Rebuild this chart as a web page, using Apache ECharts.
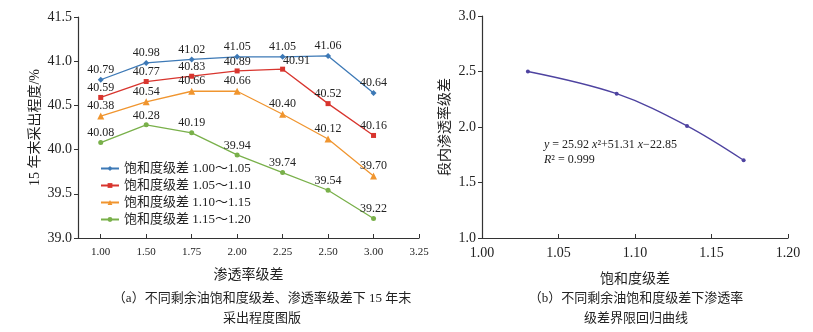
<!DOCTYPE html>
<html>
<head>
<meta charset="utf-8">
<style>
  html, body { margin: 0; padding: 0; background: #fff; }
  #chart { width: 813px; height: 332px; }
</style>
<script src="https://cdn.jsdelivr.net/npm/echarts@6/dist/echarts.min.js"></script>
</head>
<body>
<div id="chart"></div>
<script>
// Panel (a): recovery at year 15 vs permeability contrast
const permLabels = ['1.00', '1.50', '1.75', '2.00', '2.25', '2.50', '3.00', '3.25'];
const permPositions = [1, 2, 3, 4, 5, 6, 7]; // evenly spaced slots for the measured contrasts
const seriesNames = ['饱和度级差 1.00～1.05', '饱和度级差 1.05～1.10', '饱和度级差 1.10～1.15', '饱和度级差 1.15～1.20'];
const sat100to105 = [40.79, 40.98, 41.02, 41.05, 41.05, 41.06, 40.64];
const sat105to110 = [40.59, 40.77, 40.83, 40.89, 40.91, 40.52, 40.16];
const sat110to115 = [40.38, 40.54, 40.66, 40.66, 40.40, 40.12, 39.70];
const sat115to120 = [40.08, 40.28, 40.19, 39.94, 39.74, 39.54, 39.22];

// Panel (b): permeability contrast limit vs saturation contrast
const satContrast = [1.030, 1.088, 1.134, 1.171];
const permLimit = [2.50, 2.30, 2.01, 1.70];

const serif = '"Liberation Serif", "Noto Sans CJK SC", serif';
const colors = ['#3d79b6', '#d8352e', '#f0952f', '#79b04a'];
const symbols = ['diamond', 'rect', 'triangle', 'circle'];
const symbolSizes = [6, 5, 7, 5];
const lineSets = [sat100to105, sat105to110, sat110to115, sat115to120];

const chart = echarts.init(document.getElementById('chart'), null, { renderer: 'canvas' });

const leftSeries = lineSets.map((vals, i) => ({
  name: seriesNames[i],
  type: 'line',
  xAxisIndex: 0,
  yAxisIndex: 0,
  data: vals.map((v, j) => [permPositions[j], v]),
  symbol: symbols[i],
  symbolSize: symbolSizes[i],
  lineStyle: { color: colors[i], width: 1.3 },
  itemStyle: { color: colors[i] },
  label: {
    show: true,
    position: 'top',
    distance: 1,
    fontFamily: serif,
    fontSize: 12,
    color: '#222',
    formatter: p => p.value[1].toFixed(2)
  }
}));
// the 40.91 label sits up and to the right of its point
leftSeries[1].data[4] = {
  value: leftSeries[1].data[4],
  label: { position: 'top', offset: [14, 1] }
};

chart.setOption({
  animation: false,
  textStyle: { fontFamily: serif },
  grid: [
    { left: 78, top: 17, width: 341, height: 221 },
    { left: 482, top: 16, width: 306, height: 222 }
  ],
  legend: {
    data: seriesNames,
    orient: 'vertical',
    left: 95,
    top: 157,
    itemWidth: 18,
    itemHeight: 6,
    itemGap: 4,
    textStyle: { fontFamily: serif, fontSize: 13, color: '#222' }
  },
  xAxis: [
    {
      gridIndex: 0,
      type: 'value',
      min: 0.5,
      max: 8,
      name: '渗透率级差',
      nameLocation: 'middle',
      nameGap: 30,
      nameTextStyle: { fontFamily: serif, fontSize: 14, color: '#222' },
      axisLine: { lineStyle: { color: '#333', width: 1.2 } },
      axisTick: { inside: true, length: 4, customValues: [1, 2, 3, 4, 5, 6, 7, 8], lineStyle: { color: '#333' } },
      axisLabel: {
        customValues: [1, 2, 3, 4, 5, 6, 7, 8],
        formatter: v => permLabels[Math.round(v) - 1] || '',
        fontFamily: serif, fontSize: 11, color: '#222', margin: 9
      },
      splitLine: { show: false }
    },
    {
      gridIndex: 1,
      type: 'value',
      min: 1,
      max: 1.2,
      interval: 0.05,
      name: '饱和度级差',
      nameLocation: 'middle',
      nameGap: 34,
      nameTextStyle: { fontFamily: serif, fontSize: 14, color: '#222' },
      axisLine: { lineStyle: { color: '#333', width: 1.2 } },
      axisTick: { inside: true, length: 4, lineStyle: { color: '#333' } },
      axisLabel: { formatter: v => v.toFixed(2), fontFamily: serif, fontSize: 14, color: '#222', margin: 8 },
      splitLine: { show: false }
    }
  ],
  yAxis: [
    {
      gridIndex: 0,
      type: 'value',
      min: 39,
      max: 41.5,
      interval: 0.5,
      name: '15 年末采出程度/%',
      nameLocation: 'middle',
      nameGap: 36,
      nameTextStyle: { fontFamily: serif, fontSize: 14, color: '#222' },
      axisLine: { show: true, lineStyle: { color: '#333', width: 1.2 } },
      axisTick: { show: true, length: 4, lineStyle: { color: '#333' } },
      axisLabel: { formatter: v => v.toFixed(1), fontFamily: serif, fontSize: 14, color: '#222', margin: 6 },
      splitLine: { show: false }
    },
    {
      gridIndex: 1,
      type: 'value',
      min: 1,
      max: 3,
      interval: 0.5,
      name: '段内渗透率级差',
      nameLocation: 'middle',
      nameGap: 30,
      nameTextStyle: { fontFamily: serif, fontSize: 14, color: '#222' },
      axisLine: { show: true, lineStyle: { color: '#333', width: 1.2 } },
      axisTick: { show: true, length: 4, lineStyle: { color: '#333' } },
      axisLabel: { formatter: v => v.toFixed(1), fontFamily: serif, fontSize: 14, color: '#222', margin: 6 },
      splitLine: { show: false }
    }
  ],
  series: leftSeries.concat([{
    name: 'limit',
    type: 'line',
    xAxisIndex: 1,
    yAxisIndex: 1,
    data: satContrast.map((x, i) => [x, permLimit[i]]),
    smooth: 0.35,
    symbol: 'circle',
    symbolSize: 4,
    lineStyle: { color: '#4e43a0', width: 1.3 },
    itemStyle: { color: '#4e43a0' }
  }]),
  graphic: [
    {
      type: 'text',
      left: 544,
      top: 137,
      style: {
        text: '{i|y} = 25.92 {i|x}²+51.31 {i|x}−22.85\n{i|R}² = 0.999',
        fontFamily: serif,
        fontSize: 12,
        lineHeight: 15,
        fill: '#222',
        rich: { i: { fontStyle: 'italic', fontFamily: serif, fontSize: 12 } }
      }
    },
    {
      type: 'text',
      x: 262,
      y: 289,
      style: {
        text: '（a）不同剩余油饱和度级差、渗透率级差下 15 年末\n采出程度图版',
        fontFamily: serif,
        fontSize: 13,
        lineHeight: 20,
        align: 'center',
        fill: '#222'
      }
    },
    {
      type: 'text',
      x: 636,
      y: 289,
      style: {
        text: '（b）不同剩余油饱和度级差下渗透率\n级差界限回归曲线',
        fontFamily: serif,
        fontSize: 13,
        lineHeight: 20,
        align: 'center',
        fill: '#222'
      }
    }
  ]
});
</script>
</body>
</html>
